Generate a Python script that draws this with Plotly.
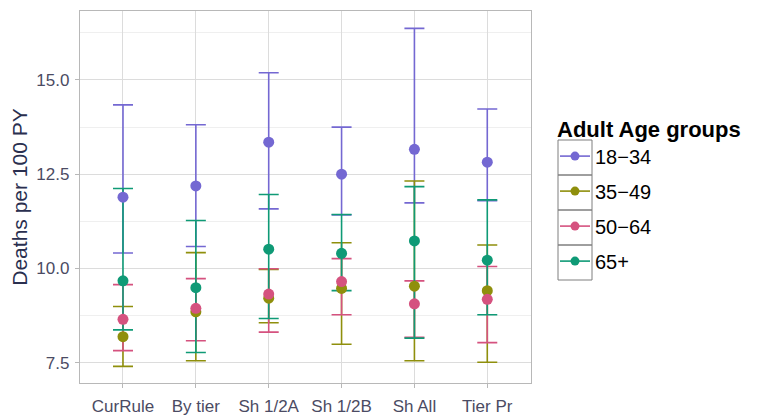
import plotly.graph_objects as go

# ---- data ----
categories = ["CurRule", "By tier", "Sh 1/2A", "Sh 1/2B", "Sh All", "Tier Pr"]
groups = ["18\u221234", "35\u221249", "50\u221264", "65+"]

est_18_34 = [11.89, 12.19, 13.35, 12.50, 13.16, 12.82]
low_18_34 = [10.41, 10.58, 11.58, 11.42, 11.74, 11.80]
upp_18_34 = [14.34, 13.81, 15.19, 13.75, 16.37, 14.23]

est_35_49 = [8.19, 8.85, 9.21, 9.47, 9.53, 9.41]
low_35_49 = [7.40, 7.55, 8.56, 7.99, 7.55, 7.51]
upp_35_49 = [8.99, 10.42, 9.97, 10.68, 12.32, 10.62]

est_50_64 = [8.65, 8.94, 9.32, 9.65, 9.06, 9.18]
low_50_64 = [7.82, 8.08, 8.31, 8.77, 8.17, 8.03]
upp_50_64 = [9.57, 9.73, 9.99, 10.26, 9.67, 10.05]

est_65 = [9.67, 9.49, 10.51, 10.40, 10.73, 10.22]
low_65 = [8.37, 7.77, 8.67, 9.41, 8.15, 8.77]
upp_65 = [12.12, 11.27, 11.96, 11.43, 12.17, 11.82]

y_tick_vals = [7.5, 10.0, 12.5, 15.0]
y_tick_text = ["7.5", "10.0", "12.5", "15.0"]

colors = ["#7468d2", "#8f8f0c", "#d5527f", "#0f9a76"]

series = [
    (est_18_34, low_18_34, upp_18_34),
    (est_35_49, low_35_49, upp_35_49),
    (est_50_64, low_50_64, upp_50_64),
    (est_65, low_65, upp_65),
]

fig = go.Figure()
xi = list(range(len(categories)))

# error bars first (all below points)
for (est, lo, up), col, name in zip(series, colors, groups):
    fig.add_trace(go.Scatter(
        x=xi, y=est, mode="markers", showlegend=False, hoverinfo="skip",
        marker=dict(size=1, opacity=0, color=col),
        error_y=dict(type="data", symmetric=False,
                     array=[u - e for u, e in zip(up, est)],
                     arrayminus=[e - l for e, l in zip(est, lo)],
                     color=col, thickness=1.6, width=10),
    ))

# points
for (est, lo, up), col, name in zip(series, colors, groups):
    fig.add_trace(go.Scatter(
        x=xi, y=est, mode="markers", showlegend=False, name=name,
        marker=dict(size=11, color=col),
    ))

# legend entries
for col, name in zip(colors, groups):
    fig.add_trace(go.Scatter(
        x=[None], y=[None], mode="lines+markers", name=name, legendgroup=name,
        line=dict(color=col, width=1.6), marker=dict(size=9, color=col),
    ))

# the page body adds an 8px offset; work in figure pixels = screen - 8
OFF = 8
W, H = 757 - OFF, 415 - OFF
L, R, T, B = 80 - OFF, 531 - OFF, 11 - OFF, 383 - OFF
pw, ph = R - L, B - T

def px_x(x):  # x in screen pixels
    return (x - OFF - L) / pw

def px_y(y):  # y in screen pixels
    return (B - (y - OFF)) / ph

shapes = []
box_tops = [140, 175, 210, 245, 280]
for i in range(4):
    shapes.append(dict(type="rect", xref="paper", yref="paper",
                       x0=px_x(558), x1=px_x(592), y0=px_y(box_tops[i + 1]), y1=px_y(box_tops[i]),
                       line=dict(color="#7f7f7f", width=1), fillcolor="rgba(0,0,0,0)"))

tickcol = "#4b4b63"
fig.update_layout(
    width=W, height=H,
    margin=dict(l=L, r=W - R, t=T, b=H - B, autoexpand=False),
    paper_bgcolor="white", plot_bgcolor="white",
    font=dict(family="Liberation Sans, Arial, sans-serif"),
    shapes=shapes,
    legend=dict(
        title=dict(text="<b>Adult Age groups</b>", font=dict(size=22, color="black")),
        font=dict(size=20, color="black"),
        x=px_x(555), xanchor="left", y=px_y(108), yanchor="top",
        tracegroupgap=6, bgcolor="rgba(0,0,0,0)", itemwidth=30,
    ),
    xaxis=dict(
        tickmode="array", tickvals=xi, ticktext=categories, automargin=False,
        range=[-0.59, 5.6], showgrid=True, gridcolor="#dcdcdc", gridwidth=1,
        showline=True, linecolor="#b8b8b8", linewidth=1.3, mirror=True,
        ticks="outside", ticklen=4, tickcolor="#b8b8b8", ticklabelstandoff=3,
        tickfont=dict(size=17, color=tickcol), zeroline=False,
    ),
    yaxis=dict(
        tickmode="array", tickvals=y_tick_vals, ticktext=y_tick_text, automargin=False,
        range=[6.96, 16.83], showgrid=True, gridcolor="#dcdcdc", gridwidth=1,
        minor=dict(dtick=1.25, tick0=6.25, showgrid=True, gridcolor="#efefef", gridwidth=1),
        showline=True, linecolor="#b8b8b8", linewidth=1.3, mirror=True,
        ticks="outside", ticklen=4, tickcolor="#b8b8b8", ticklabelstandoff=2,
        tickfont=dict(size=17, color=tickcol), zeroline=False,
        title=dict(text="Deaths per 100 PY", font=dict(size=21, color="#2a2f4f"), standoff=8),
    ),
)

fig.write_html("out.html")
